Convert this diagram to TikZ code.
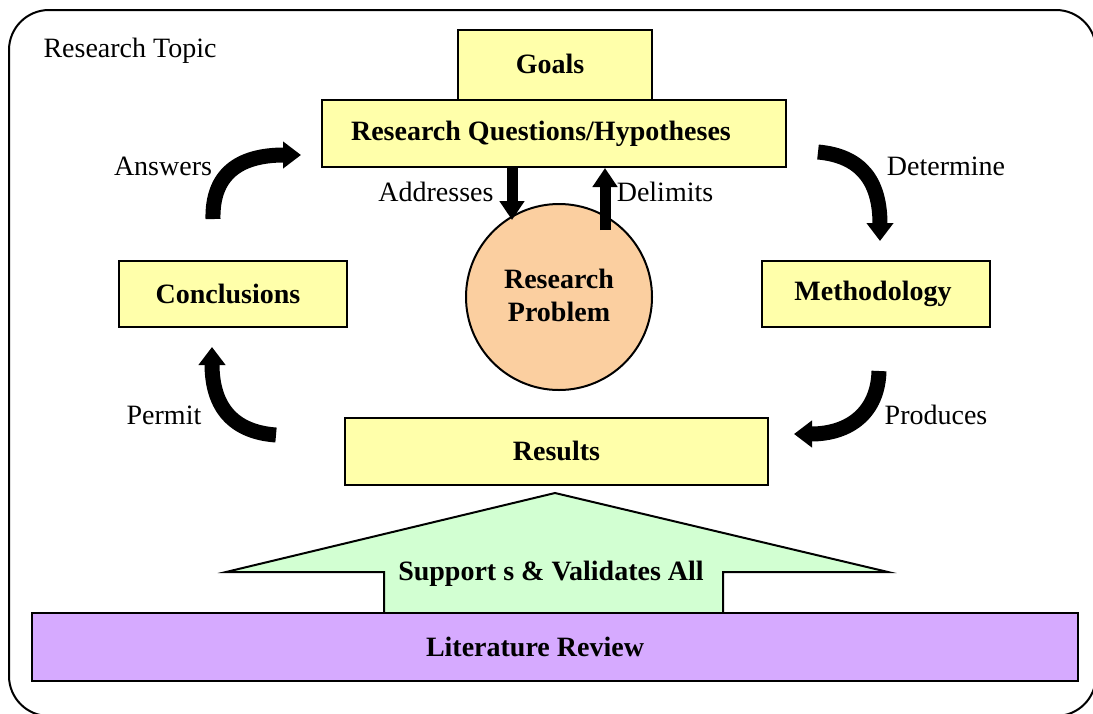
\documentclass[tikz,border=0pt]{standalone}
\usepackage{fontspec}
\setmainfont{Liberation Serif}
\usetikzlibrary{arrows.meta}
\definecolor{boxyellow}{HTML}{FFFFAA}
\definecolor{peach}{HTML}{FBCFA0}
\definecolor{lightgreen}{HTML}{D2FFD2}
\definecolor{lilac}{HTML}{D6AAFF}
\tikzset{
  txt/.style={font=\fontsize{28}{32}\selectfont},
  btxt/.style={font=\fontsize{28}{33}\selectfont\bfseries},
  ybox/.style={draw=black, line width=2, fill=boxyellow, inner sep=0, btxt},
  bigarrow/.style={line width=15, -{Triangle[length=18, width=26]}},
  strarrow/.style={line width=11, -{Triangle[length=19, width=24]}},
}
\begin{document}
\begin{tikzpicture}[x=1pt,y=-1pt]
\useasboundingbox (0,0) rectangle (1093,713);
\clip (0,0) rectangle (1093,713);
\fill[white] (0,0) rectangle (1093,713);
% outer frame
\draw[line width=2, rounded corners=40] (9,10) rectangle (1096,716);
\node[txt, anchor=west] (topic) at (40,51) {Research Topic};

% boxes
\node[ybox, minimum width=194, minimum height=70] (goals) at (555,65) {\raisebox{2pt}{Goals}\hspace*{10pt}};
\node[ybox, minimum width=464, minimum height=67] (rq) at (554,133.5) {Research Questions/Hypotheses\hspace*{26pt}};
\node[draw=black, line width=2, fill=peach, circle, minimum size=186, inner sep=0, btxt, align=center] (rp) at (559,297) {\raisebox{3pt}{Research}\\\raisebox{3pt}{Problem}};
\node[ybox, minimum width=228, minimum height=66] (concl) at (233,294) {Conclusions\hspace*{10pt}};
\node[ybox, minimum width=228, minimum height=66] (meth) at (876,294) {Methodology\hspace*{6pt}};
\node[ybox, minimum width=423, minimum height=67] (res) at (556.5,451.5) {\raisebox{2pt}{Results}};

% big green arrow
\draw[line width=2, fill=lightgreen] (384,613) -- (384,572) -- (226,572) -- (555,493) -- (888,572) -- (723,572) -- (723,613);
\node[btxt] (sup) at (551,574) {Support s \& Validates All};
\node[draw=black, line width=2, fill=lilac, minimum width=1046, minimum height=68, inner sep=0, btxt] (lit) at (555,647) {\raisebox{-3pt}{Literature Review}\hspace*{40pt}};

% straight arrows
\coordinate (addS) at (rq.south -| 512,0);
\coordinate (addE) at (512,220);
\coordinate (delS) at (605,230);
\coordinate (delE) at (rq.south -| 605,0);
\draw[strarrow] (addS) -- (addE);
\draw[strarrow] (delS) -- (delE);
\node[txt] (addl) at (436,192) {Addresses};
\node[txt] (dell) at (665,192) {Delimits};

% curved arrows
\coordinate (ansS) at (213,219);
\coordinate (ansE) at (301,155);
\draw[bigarrow] (ansS) .. controls (212,175) and (238,155) .. (ansE);
\coordinate (detS) at (818,152);
\coordinate (detE) at (880,241);
\draw[bigarrow] (detS) .. controls (862,156) and (880,182) .. (detE);
\coordinate (proS) at (879,371);
\coordinate (proE) at (794,434);
\draw[bigarrow] (proS) .. controls (878,412) and (850,434) .. (proE);
\coordinate (perS) at (276,435);
\coordinate (perE) at (212,347);
\draw[bigarrow] (perS) .. controls (234,432) and (212,408) .. (perE);

\node[txt] (ansl) at (163,166) {Answers};
\node[txt] (detl) at (946,166) {Determine};
\node[txt] (perl) at (164,415) {Permit};
\node[txt] (prol) at (936,415) {Produces};
\end{tikzpicture}
\end{document}
